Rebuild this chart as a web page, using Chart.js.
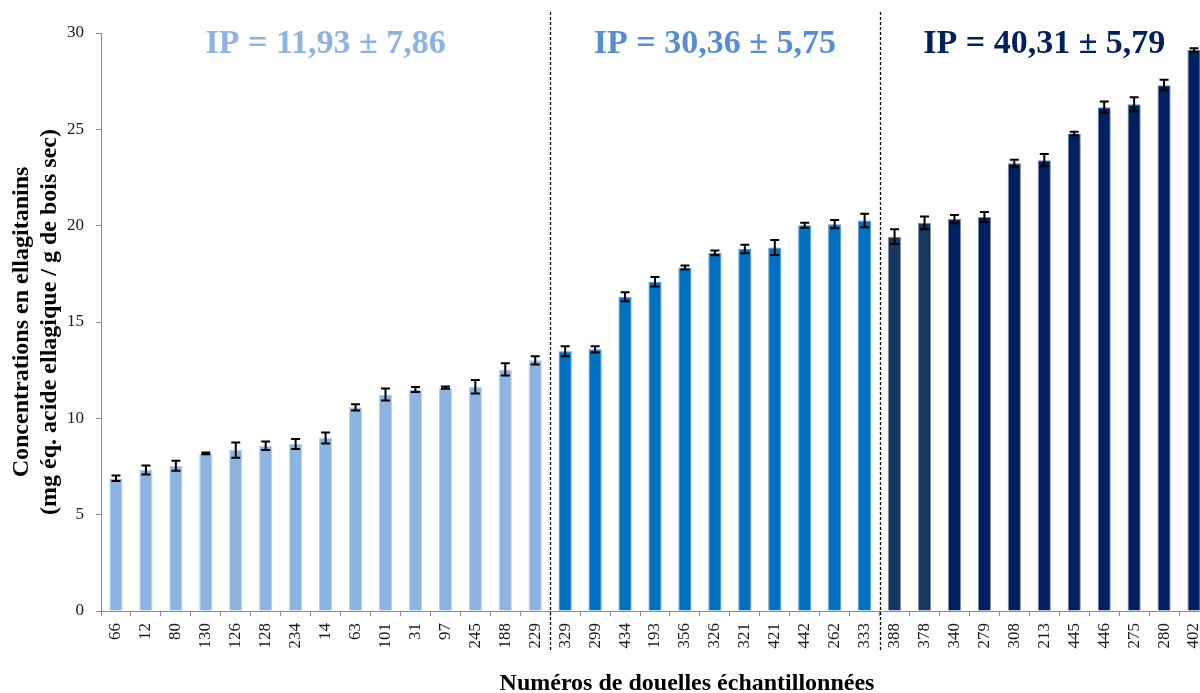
<!DOCTYPE html>
<html>
<head>
<meta charset="utf-8">
<script src="https://cdn.jsdelivr.net/npm/chart.js@4/dist/chart.umd.min.js"></script>
<style>
  html, body { margin: 0; padding: 0; background: #fff; overflow: hidden; }
  #wrap { position: relative; width: 1209px; height: 693px; }
</style>
</head>
<body>
<div id="wrap"><canvas id="ellagChart"></canvas></div>
<script>
// douelles, sorted by concentration inside each IP group
var labels = ['66', '12', '80', '130', '126', '128', '234', '14', '63', '101', '31', '97', '245', '188', '229',
  '329', '299', '434', '193', '356', '326', '321', '421', '442', '262', '333',
  '388', '378', '340', '279', '308', '213', '445', '446', '275', '280', '402'];
var values = [6.89, 7.32, 7.54, 8.18, 8.35, 8.58, 8.67, 8.98, 10.57, 11.24, 11.5, 11.59, 11.64, 12.54, 13.01,
  13.48, 13.58, 16.31, 17.09, 17.83, 18.59, 18.79, 18.87, 20.02, 20.08, 20.27,
  19.43, 20.14, 20.34, 20.45, 23.24, 23.4, 24.78, 26.15, 26.3, 27.29, 29.12];
var errors = [0.14, 0.23, 0.26, 0.05, 0.4, 0.22, 0.26, 0.29, 0.16, 0.31, 0.13, 0.06, 0.35, 0.32, 0.21,
  0.26, 0.16, 0.23, 0.25, 0.1, 0.12, 0.22, 0.39, 0.13, 0.22, 0.35,
  0.38, 0.33, 0.21, 0.26, 0.18, 0.32, 0.09, 0.29, 0.37, 0.28, 0.09];

var groupSizes = [15, 11, 11];
var groupTitles = ['IP = 11,93 \u00b1 7,86', 'IP = 30,36 \u00b1 5,75', 'IP = 40,31 \u00b1 5,79'];
var groupTitleColors = ['#8DB3E2', '#558ED5', '#002060'];
var groupBarColors = ['#8DB3E2', '#0070C0', '#002060'];
var groupEdgeColors = ['#B8D0EE', '#4F9AD3', '#7F8FB0'];
var oddBars = { '388': '#17375E', '378': '#17375E' };

var yMin = 0, yMax = 30, yStep = 5;

var bg = [], edge = [];
groupSizes.forEach(function(n, g) {
  for (var i = 0; i < n; i++) {
    bg.push(groupBarColors[g]);
    edge.push(groupEdgeColors[g]);
  }
});
labels.forEach(function(l, i) { if (oddBars[l]) bg[i] = oddBars[l]; });

var serif = "'Liberation Serif', 'Times New Roman', serif";

var extras = {
  id: 'extras',
  afterDatasetsDraw: function(chart) {
    var ctx = chart.ctx;
    var x = chart.scales.x, y = chart.scales.y;
    var meta = chart.getDatasetMeta(0);
    ctx.save();
    // error bars
    ctx.strokeStyle = '#000';
    ctx.lineWidth = 2;
    meta.data.forEach(function(bar, i) {
      var yt = y.getPixelForValue(values[i] + errors[i]);
      var yb = y.getPixelForValue(values[i] - errors[i]);
      var cx = bar.x;
      ctx.beginPath();
      ctx.moveTo(cx, yt); ctx.lineTo(cx, yb);
      ctx.moveTo(cx - 4.5, yt); ctx.lineTo(cx + 4.5, yt);
      ctx.moveTo(cx - 4.5, yb); ctx.lineTo(cx + 4.5, yb);
      ctx.stroke();
    });
    // group separators + titles
    var start = 0;
    groupSizes.forEach(function(n, g) {
      var left = (x.getPixelForValue(start) + x.getPixelForValue(start - 1)) / 2;
      var right = (x.getPixelForValue(start + n - 1) + x.getPixelForValue(start + n)) / 2;
      if (g > 0) {
        ctx.beginPath();
        ctx.setLineDash([3, 2]);
        ctx.lineWidth = 1.3;
        ctx.strokeStyle = '#000';
        ctx.moveTo(Math.round(left) + 0.5, 12);
        ctx.lineTo(Math.round(left) + 0.5, 652);
        ctx.stroke();
        ctx.setLineDash([]);
      }
      ctx.fillStyle = groupTitleColors[g];
      ctx.font = 'bold 34px ' + serif;
      ctx.textAlign = 'center';
      ctx.textBaseline = 'alphabetic';
      ctx.fillText(groupTitles[g], (left + right) / 2, 53);
      start += n;
    });
    // x axis title
    ctx.fillStyle = '#000';
    ctx.font = 'bold 24px ' + serif;
    ctx.textAlign = 'center';
    ctx.fillText('Num\u00e9ros de douelles \u00e9chantillonn\u00e9es', 687, 690);
    ctx.restore();
  }
};

new Chart(document.getElementById('ellagChart'), {
  type: 'bar',
  data: {
    labels: labels,
    datasets: [{
      data: values,
      backgroundColor: bg,
      borderColor: edge,
      borderWidth: 1,
      categoryPercentage: 1,
      barPercentage: 0.44
    }]
  },
  options: {
    responsive: true,
    maintainAspectRatio: false,
    animation: false,
    layout: { padding: { top: 33, right: 0, bottom: 0, left: 0 } },
    plugins: { legend: { display: false }, tooltip: { enabled: false } },
    scales: {
      x: {
        afterFit: function(s) { s.height = 82; s.paddingLeft = 0; s.paddingRight = 0; },
        border: { color: '#8C8C8C', width: 1 },
        grid: { offset: true, drawOnChartArea: false, drawTicks: true, tickLength: 5, color: '#8C8C8C' },
        ticks: { minRotation: 90, maxRotation: 90, padding: 7, color: '#1a1a1a', font: { family: serif, size: 17 } }
      },
      y: {
        min: yMin, max: yMax,
        afterFit: function(s) { s.width = 101; s.paddingTop = 0; s.paddingBottom = 0; },
        border: { color: '#8C8C8C', width: 1 },
        grid: { drawOnChartArea: false, drawTicks: true, tickLength: 5, color: '#8C8C8C' },
        ticks: { stepSize: yStep, padding: 12, color: '#1a1a1a', font: { family: serif, size: 17 } },
        title: {
          display: true,
          text: ['Concentrations en ellagitanins', '(mg \u00e9q. acide ellagique / g de bois sec)'],
          color: '#000',
          font: { family: serif, size: 24, weight: 'bold', lineHeight: 1.17 },
          padding: { top: 8, bottom: 0 }
        }
      }
    }
  },
  plugins: [extras]
});
</script>
</body>
</html>
